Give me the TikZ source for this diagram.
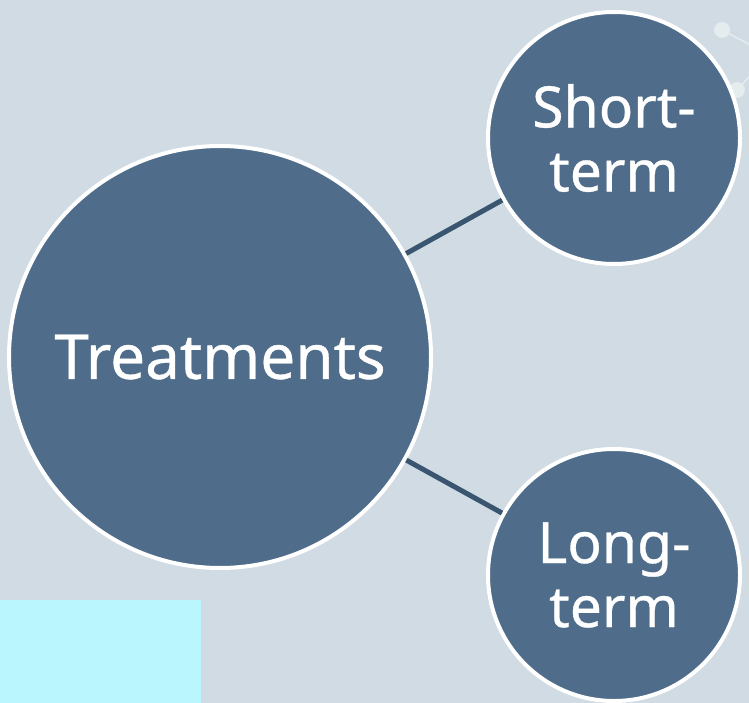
\documentclass[tikz,border=0pt]{standalone}
\usepackage{fontspec}
\setmainfont{Noto Sans}
\newfontfamily\bubblefont[FakeBold=0.6]{Noto Sans}
\definecolor{bgblue}{HTML}{D0DBE3}
\definecolor{bubble}{HTML}{4F6D8A}
\definecolor{linkblue}{HTML}{3A5570}
\definecolor{dotgrey}{HTML}{E4ECEE}
\definecolor{cyanbox}{HTML}{B9F6FE}
\def\bigfont{\bubblefont\fontsize{62}{62}\selectfont}
\def\smallfont{\bubblefont\fontsize{57}{64}\selectfont}

\begin{document}
\begin{tikzpicture}[x=1pt,y=-1pt,
    bubble/.style={circle,draw=white,line width=4pt,fill=bubble,text=white,align=center,inner sep=0pt},
    link/.style={linkblue,line width=5pt},
    dot/.style={circle,fill=dotgrey,inner sep=0pt,minimum size=16pt}]
  \clip (0,0) rectangle (749,703);
  \fill[bgblue] (0,0) rectangle (749,703);
  \fill[cyanbox] (0,600) rectangle (201,703);
  % corner decoration
  \node[dot] (d1) at (722,30) {};
  \node[dot] (d2) at (737,90) {};
  \coordinate (e1) at (760,50);
  \coordinate (e2) at (760,65);
  \draw[dotgrey,line width=1.5pt] (d1) -- (e1) (d2) -- (e2);
  % bubbles
  \node[bubble,minimum size=422pt,font=\bigfont] (treat) at (220,357) {Treatments};
  \node[bubble,minimum size=252pt,font=\smallfont] (short) at (614,138) {Short-\\term};
  \node[bubble,minimum size=252pt,font=\smallfont] (long) at (614,575) {Long-\\term};
  \draw[link] (treat) -- (short);
  \draw[link] (treat) -- (long);
\end{tikzpicture}
\end{document}
